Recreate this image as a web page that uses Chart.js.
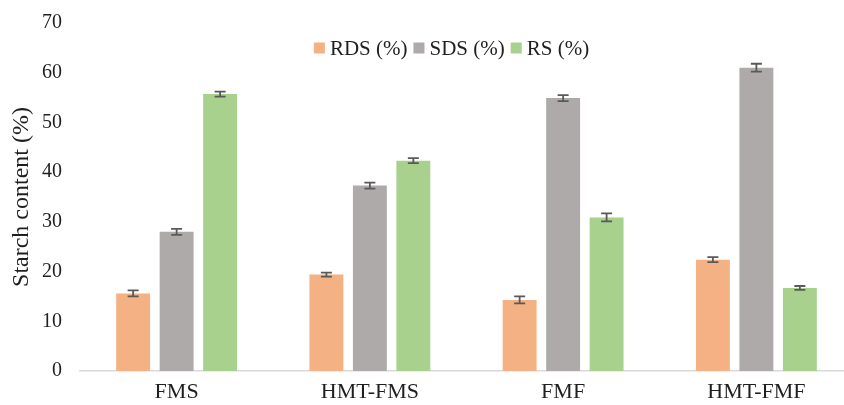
<!DOCTYPE html>
<html>
<head>
<meta charset="utf-8">
<script src="https://cdn.jsdelivr.net/npm/chart.js@4.4.1/dist/chart.umd.min.js"></script>
<style>
  html, body { margin: 0; padding: 0; background: #ffffff; overflow: hidden; }
  #wrap { width: 860px; height: 405px; }
</style>
</head>
<body>
<div id="wrap"><canvas id="chart" width="860" height="405"></canvas></div>
<script>
// Starch fractions per sample (mean values, %)
const categories = ['FMS', 'HMT-FMS', 'FMF', 'HMT-FMF'];
const seriesNames = ['RDS (%)', 'SDS (%)', 'RS (%)'];
const rdsValues = [15.6, 19.4, 14.3, 22.4];
const sdsValues = [28.0, 37.3, 54.9, 61.0];
const rsValues = [55.7, 42.3, 30.9, 16.7];
// Standard deviations shown as error bars
const rdsErrors = [0.6, 0.4, 0.7, 0.5];
const sdsErrors = [0.6, 0.6, 0.6, 0.8];
const rsErrors = [0.5, 0.5, 0.8, 0.4];
const yTicks = [0, 10, 20, 30, 40, 50, 60, 70];

const FONT = '"Liberation Serif", "Times New Roman", serif';
const TEXT = '#1f1f1f';

// Draws the +/- error whiskers on top of each bar using the y scale
const errorBars = {
  id: 'errorBars',
  afterDatasetsDraw(chart) {
    const { ctx } = chart;
    const y = chart.scales.y;
    ctx.save();
    ctx.strokeStyle = '#595959';
    ctx.lineWidth = 1.8;
    chart.data.datasets.forEach((ds, i) => {
      const meta = chart.getDatasetMeta(i);
      meta.data.forEach((bar, j) => {
        const v = ds.data[j], e = ds.errors[j];
        const top = y.getPixelForValue(v + e);
        const bot = y.getPixelForValue(v - e);
        const x = bar.x, cap = 5.5;
        ctx.beginPath();
        ctx.moveTo(x, top); ctx.lineTo(x, bot);
        ctx.moveTo(x - cap, top); ctx.lineTo(x + cap, top);
        ctx.moveTo(x - cap, bot); ctx.lineTo(x + cap, bot);
        ctx.stroke();
      });
    });
    ctx.restore();
  }
};

// Compact legend laid over the top of the plot area
const insideLegend = {
  id: 'insideLegend',
  afterDraw(chart) {
    const { ctx, chartArea } = chart;
    const box = 11, gap = 5, spacing = 6;
    ctx.save();
    ctx.font = '21px ' + FONT;
    ctx.textBaseline = 'middle';
    const items = chart.data.datasets.map(ds => ({
      text: ds.label, color: ds.backgroundColor, w: ctx.measureText(ds.label).width
    }));
    const total = items.reduce((s, it) => s + box + gap + it.w, 0) + spacing * (items.length - 1);
    const cx = (chartArea.left + chartArea.right) / 2 - 15;
    let x = cx - total / 2;
    const cy = chartArea.top + 25;
    items.forEach(it => {
      ctx.fillStyle = it.color;
      ctx.fillRect(x, cy - box / 2, box, box);
      x += box + gap;
      ctx.fillStyle = TEXT;
      ctx.fillText(it.text, x, cy + 1);
      x += it.w + spacing;
    });
    ctx.restore();
  }
};

const errorSets = [rdsErrors, sdsErrors, rsErrors];
const valueSets = [rdsValues, sdsValues, rsValues];
const colors = ['#F4B183', '#AEAAAA', '#A9D18E'];

new Chart(document.getElementById('chart'), {
  type: 'bar',
  data: {
    labels: categories,
    datasets: seriesNames.map((name, i) => ({
      label: name,
      data: valueSets[i],
      errors: errorSets[i],
      backgroundColor: colors[i],
      borderWidth: 0,
      categoryPercentage: 0.675,
      barPercentage: 0.78
    }))
  },
  options: {
    responsive: false,
    animation: false,
    devicePixelRatio: 1,
    layout: { padding: { top: 23, right: 7, bottom: 0, left: 0 } },
    plugins: {
      legend: { display: false },
      tooltip: { enabled: false }
    },
    scales: {
      x: {
        grid: { display: false, drawTicks: false },
        border: { display: true, color: '#D9D9D9', width: 1.5 },
        ticks: { color: TEXT, font: { family: FONT, size: 22 }, padding: 8 },
        afterFit(s) { s.height = 34; }
      },
      y: {
        min: 0, max: 70,
        afterBuildTicks(s) { s.ticks = yTicks.map(v => ({ value: v })); },
        grid: { display: false, drawTicks: false },
        border: { display: false },
        ticks: { color: TEXT, font: { family: FONT, size: 20 }, padding: 18 },
        title: {
          display: true, text: 'Starch content (%)', color: TEXT,
          font: { family: FONT, size: 24 }, padding: { top: 7, bottom: 0 }
        },
        afterFit(s) { s.width = 80; s.paddingTop = 0; s.paddingBottom = 0; }
      }
    }
  },
  plugins: [errorBars, insideLegend]
});
</script>
</body>
</html>
